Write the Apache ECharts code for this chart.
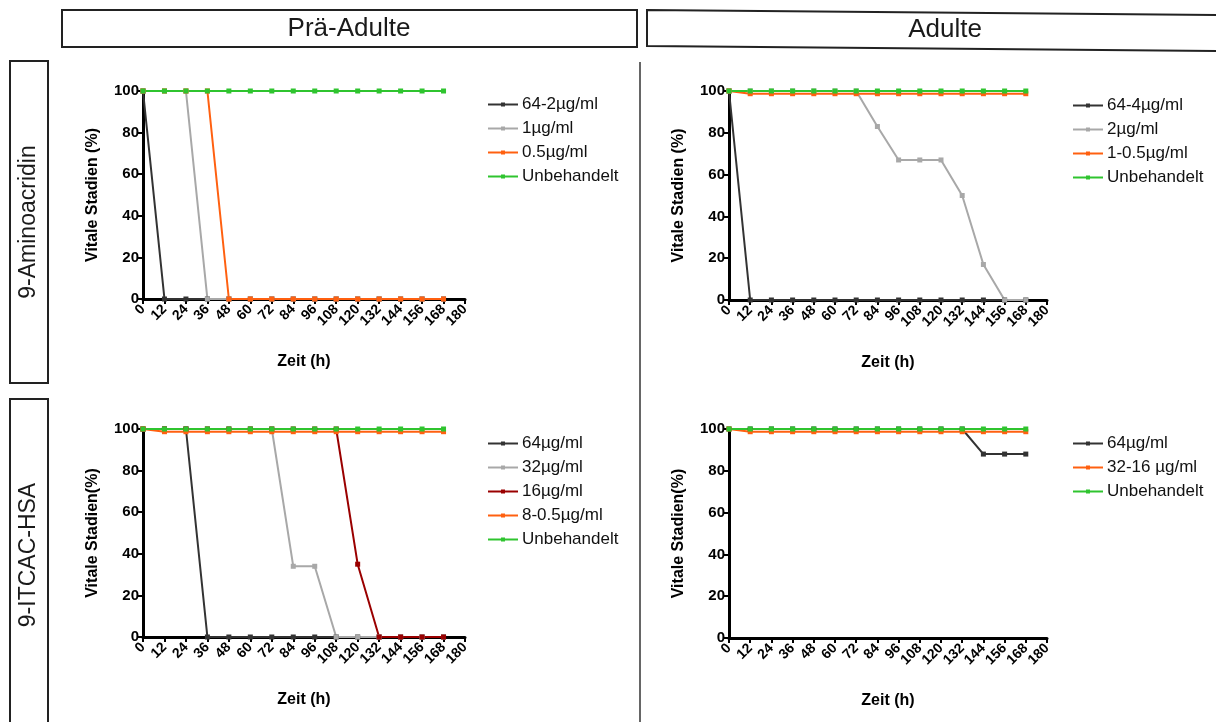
<!DOCTYPE html>
<html>
<head>
<meta charset="utf-8">
<title>Vitale Stadien</title>
<script src="https://cdn.jsdelivr.net/npm/echarts@6/dist/echarts.min.js"></script>
<style>
  html, body { margin: 0; padding: 0; background: #fff; }
  #chart { width: 1216px; height: 722px; }
</style>
</head>
<body>
<div id="chart"></div>
<script>
// Zeitpunkte (h)
const hours = [0, 12, 24, 36, 48, 60, 72, 84, 96, 108, 120, 132, 144, 156, 168];
const xTicks = [0, 12, 24, 36, 48, 60, 72, 84, 96, 108, 120, 132, 144, 156, 168, 180];
const yTicks = [0, 20, 40, 60, 80, 100];

// 9-Aminoacridin, Prä-Adulte
const aminoPre_64_2 = [100, 0, 0, 0, 0, 0, 0, 0, 0, 0, 0, 0, 0, 0, 0];
const aminoPre_1 = [100, 100, 100, 0, 0, 0, 0, 0, 0, 0, 0, 0, 0, 0, 0];
const aminoPre_05 = [100, 100, 100, 100, 0, 0, 0, 0, 0, 0, 0, 0, 0, 0, 0];
const aminoPre_unb = [100, 100, 100, 100, 100, 100, 100, 100, 100, 100, 100, 100, 100, 100, 100];

// 9-Aminoacridin, Adulte
const aminoAd_64_4 = [100, 0, 0, 0, 0, 0, 0, 0, 0, 0, 0, 0, 0, 0, 0];
const aminoAd_2 = [100, 100, 100, 100, 100, 100, 100, 83, 67, 67, 67, 50, 17, 0, 0];
const aminoAd_1_05 = [100, 98.7, 98.7, 98.7, 98.7, 98.7, 98.7, 98.7, 98.7, 98.7, 98.7, 98.7, 98.7, 98.7, 98.7];
const aminoAd_unb = [100, 100, 100, 100, 100, 100, 100, 100, 100, 100, 100, 100, 100, 100, 100];

// 9-ITCAC-HSA, Prä-Adulte
const itcPre_64 = [100, 100, 100, 0, 0, 0, 0, 0, 0, 0, 0, 0, 0, 0, 0];
const itcPre_32 = [100, 100, 100, 100, 100, 100, 100, 34, 34, 0, 0, 0, 0, 0, 0];
const itcPre_16 = [100, 100, 100, 100, 100, 100, 100, 100, 100, 100, 35, 0, 0, 0, 0];
const itcPre_8_05 = [100, 98.7, 98.7, 98.7, 98.7, 98.7, 98.7, 98.7, 98.7, 98.7, 98.7, 98.7, 98.7, 98.7, 98.7];
const itcPre_unb = [100, 100, 100, 100, 100, 100, 100, 100, 100, 100, 100, 100, 100, 100, 100];

// 9-ITCAC-HSA, Adulte
const itcAd_64 = [100, 100, 100, 100, 100, 100, 100, 100, 100, 100, 100, 100, 88, 88, 88];
const itcAd_32_16 = [100, 98.7, 98.7, 98.7, 98.7, 98.7, 98.7, 98.7, 98.7, 98.7, 98.7, 98.7, 98.7, 98.7, 98.7];
const itcAd_unb = [100, 100, 100, 100, 100, 100, 100, 100, 100, 100, 100, 100, 100, 100, 100];

const FONT = "'Liberation Sans', Arial, Helvetica, sans-serif";
const C_DARK = '#333333';
const C_GRAY = '#a8a8a8';
const C_ORANGE = '#ff6010';
const C_GREEN = '#2fc42f';
const C_RED = '#9a0000';

const chart = echarts.init(document.getElementById('chart'));

const grids = [
  { left: 143, top: 91, width: 322, height: 208 },
  { left: 729, top: 91, width: 318, height: 209 },
  { left: 143, top: 429, width: 322, height: 208 },
  { left: 729, top: 429, width: 318, height: 209 }
];

const yNames = ['Vitale Stadien (%)', 'Vitale Stadien (%)', 'Vitale Stadien(%)', 'Vitale Stadien(%)'];

const axisLine = { show: true, onZero: false, lineStyle: { color: '#000', width: 3 } };
const axisTick = { show: true, length: 5, lineStyle: { color: '#000', width: 2 } };

const xAxes = grids.map((g, i) => ({
  type: 'value',
  gridIndex: i,
  min: xTicks[0],
  max: xTicks[xTicks.length - 1],
  interval: 12,
  axisLine,
  axisTick,
  splitLine: { show: false },
  axisLabel: {
    rotate: 45,
    margin: 8,
    color: '#000',
    fontWeight: 'bold',
    fontSize: 14,
    fontFamily: FONT
  },
  name: 'Zeit (h)',
  nameLocation: 'middle',
  nameGap: 55,
  nameTextStyle: { color: '#000', fontWeight: 'bold', fontSize: 16, fontFamily: FONT }
}));

const yAxes = grids.map((g, i) => ({
  type: 'value',
  gridIndex: i,
  min: yTicks[0],
  max: yTicks[yTicks.length - 1],
  interval: 20,
  axisLine,
  axisTick,
  splitLine: { show: false },
  axisLabel: {
    margin: 4,
    color: '#000',
    fontWeight: 'bold',
    fontSize: 15,
    fontFamily: FONT
  },
  name: yNames[i],
  nameLocation: 'middle',
  nameGap: 42,
  nameTextStyle: { color: '#000', fontWeight: 'bold', fontSize: 16, fontFamily: FONT }
}));

const line = (name, vals, color, idx) => ({
  name,
  type: 'line',
  xAxisIndex: idx,
  yAxisIndex: idx,
  data: hours.map((h, k) => [h, vals[k]]),
  symbol: 'rect',
  symbolSize: 5,
  showSymbol: true,
  clip: false,
  itemStyle: { color },
  lineStyle: { color, width: 2 },
  emphasis: { disabled: true }
});

const series = [
  line('64-2µg/ml', aminoPre_64_2, C_DARK, 0),
  line('1µg/ml', aminoPre_1, C_GRAY, 0),
  line('0.5µg/ml', aminoPre_05, C_ORANGE, 0),
  line('Unbehandelt', aminoPre_unb, C_GREEN, 0),

  line('64-4µg/ml', aminoAd_64_4, C_DARK, 1),
  line('2µg/ml', aminoAd_2, C_GRAY, 1),
  line('1-0.5µg/ml', aminoAd_1_05, C_ORANGE, 1),
  line('Unbehandelt', aminoAd_unb, C_GREEN, 1),

  line('64µg/ml', itcPre_64, C_DARK, 2),
  line('32µg/ml', itcPre_32, C_GRAY, 2),
  line('16µg/ml', itcPre_16, C_RED, 2),
  line('8-0.5µg/ml', itcPre_8_05, C_ORANGE, 2),
  line('Unbehandelt', itcPre_unb, C_GREEN, 2),

  line('64µg/ml', itcAd_64, C_DARK, 3),
  line('32-16 µg/ml', itcAd_32_16, C_ORANGE, 3),
  line('Unbehandelt', itcAd_unb, C_GREEN, 3)
];

const legendBase = {
  orient: 'vertical',
  padding: 0,
  itemWidth: 30,
  itemHeight: 5,
  itemGap: 7,
  selectedMode: false,
  textStyle: { color: '#111', fontSize: 17, lineHeight: 17, fontFamily: FONT, padding: [0, 0, 0, -1] }
};

const legends = [
  { ...legendBase, left: 487, top: 96, data: ['64-2µg/ml', '1µg/ml', '0.5µg/ml', 'Unbehandelt'] },
  { ...legendBase, left: 1072, top: 97, data: ['64-4µg/ml', '2µg/ml', '1-0.5µg/ml', 'Unbehandelt'] },
  { ...legendBase, left: 487, top: 435, data: ['64µg/ml', '32µg/ml', '16µg/ml', '8-0.5µg/ml', 'Unbehandelt'] },
  { ...legendBase, left: 1072, top: 435, data: ['64µg/ml', '32-16 µg/ml', 'Unbehandelt'] }
];

// Rahmen, Überschriften und Trennlinie
const frame = { stroke: '#222', lineWidth: 2, fill: 'none' };
const graphic = [
  { type: 'rect', shape: { x: 62, y: 10, width: 575, height: 37 }, style: frame },
  { type: 'text', x: 349, y: 29, style: { text: 'Prä-Adulte', fontSize: 26, fontFamily: FONT, fill: '#1a1a1a', align: 'center', verticalAlign: 'middle' } },
  { type: 'polygon', shape: { points: [[647, 10], [1222, 15], [1222, 51], [647, 46]] }, style: frame },
  { type: 'text', x: 945, y: 30, style: { text: 'Adulte', fontSize: 26, fontFamily: FONT, fill: '#1a1a1a', align: 'center', verticalAlign: 'middle' } },
  { type: 'rect', shape: { x: 10, y: 61, width: 38, height: 322 }, style: frame },
  { type: 'text', x: 29, y: 222, rotation: Math.PI / 2, style: { text: '9-Aminoacridin', fontSize: 23, fontFamily: FONT, fill: '#1a1a1a', align: 'center', verticalAlign: 'middle' } },
  { type: 'rect', shape: { x: 10, y: 399, width: 38, height: 330 }, style: frame },
  { type: 'text', x: 29, y: 555, rotation: Math.PI / 2, style: { text: '9-ITCAC-HSA', fontSize: 23, fontFamily: FONT, fill: '#1a1a1a', align: 'center', verticalAlign: 'middle' } },
  { type: 'line', shape: { x1: 640, y1: 62, x2: 640, y2: 722 }, style: { stroke: '#333', lineWidth: 1.5 } }
];

chart.setOption({
  animation: false,
  backgroundColor: '#fff',
  grid: grids,
  xAxis: xAxes,
  yAxis: yAxes,
  legend: legends,
  series,
  graphic
});
</script>
</body>
</html>
